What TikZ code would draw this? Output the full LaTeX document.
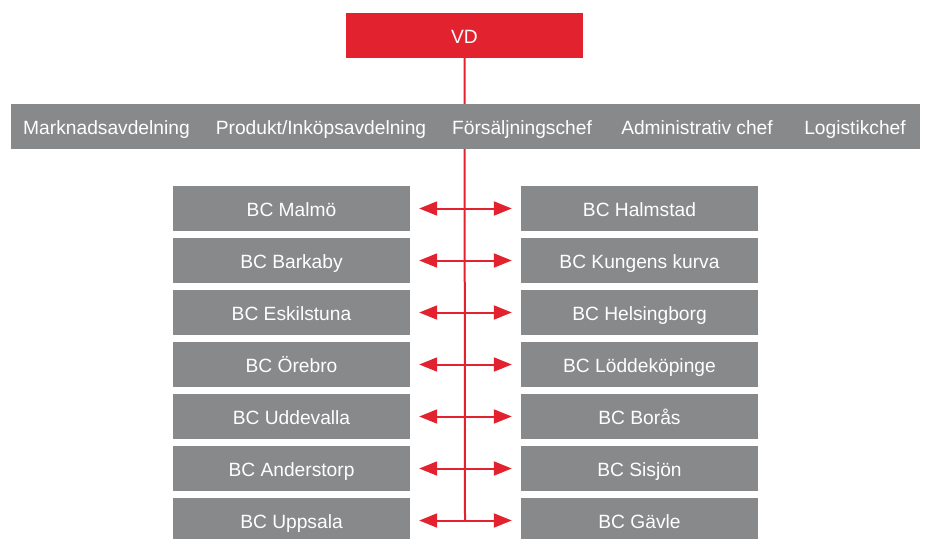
\documentclass[tikz,border=0pt]{standalone}
\usepackage{fontspec}
\setmainfont{Liberation Sans}
\usetikzlibrary{arrows.meta}
\definecolor{vdred}{HTML}{E3222F}
\definecolor{boxgray}{HTML}{88898B}
\begin{document}
\begin{tikzpicture}[x=1pt,y=-1pt,
  txt/.style={text=white,font=\fontsize{19.2}{21}\selectfont,text height=20pt,text depth=5pt},
  redbox/.style={txt,fill=vdred,draw=none,minimum width=237pt,minimum height=45pt,inner sep=0pt},
  graybox/.style={txt,fill=boxgray,draw=none,minimum width=237pt,minimum height=45pt,inner sep=0pt},
  barbox/.style={fill=boxgray,draw=none,minimum width=909pt,minimum height=45pt,inner sep=0pt},
  bartext/.style={txt,inner sep=0pt},
  spine/.style={draw=vdred,line width=2pt},
  link/.style={draw=vdred,line width=2pt,-{Triangle[length=18pt,width=14pt]},shorten >=9pt}
]
\useasboundingbox (0,0) rectangle (925,538);
\node[redbox] (vd) at (464.5,35.5) {VD};
\coordinate (end) at (465,521);
\draw[spine] (vd.south) -- (end);
\node[barbox] (bar) at (465.5,126.5) {};
\node[bartext] (t1) at (106.5,126.5) {Marknadsavdelning};
\node[bartext] (t2) at (321,126.5) {Produkt/Inköpsavdelning};
\node[bartext] (t3) at (522,126.5) {Försäljningschef};
\node[bartext] (t4) at (697,126.5) {Administrativ chef};
\node[bartext] (t5) at (855,126.5) {Logistikchef};
\foreach \i/\l/\r in {0/BC Malmö/BC Halmstad,1/BC Barkaby/BC Kungens kurva,2/BC Eskilstuna/BC Helsingborg,3/BC Örebro/BC Löddeköpinge,4/BC Uddevalla/BC Borås,5/BC Anderstorp/BC Sisjön,6/BC Uppsala/BC Gävle}{
  \node[graybox] (L\i) at (291.5,208.5+52*\i) {\l};
  \node[graybox] (R\i) at (639.5,208.5+52*\i) {\r};
  \coordinate (c\i) at (465,208.5+52*\i);
  \draw[link] (c\i) -- (L\i.east);
  \draw[link] (c\i) -- (R\i.west);
}
\end{tikzpicture}
\end{document}
